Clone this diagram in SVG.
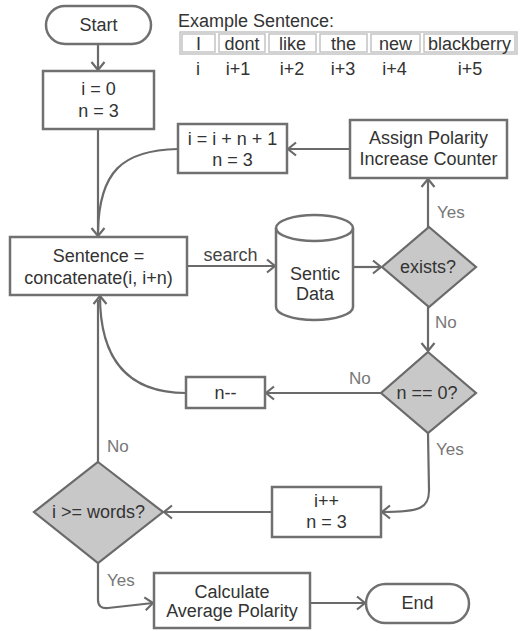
<svg xmlns="http://www.w3.org/2000/svg" width="520" height="631" viewBox="0 0 520 631">
<defs>
<marker id="arr" markerUnits="userSpaceOnUse" viewBox="-11 -8 13 16" refX="0" refY="0" markerWidth="13" markerHeight="16" orient="auto">
<path d="M-8,-6.5 L0,0 L-8,6.5" fill="none" stroke="#6a6a6a" stroke-width="2.2"/>
</marker>
</defs>
<style>
.box{fill:#fff;stroke:#707070;stroke-width:2.5}
.dia{fill:#c8c8c8;stroke:#6a6a6a;stroke-width:2.2}
.t{font-family:"Liberation Sans",Arial,sans-serif;font-size:18px;fill:#333;text-anchor:middle}
.lab{font-family:"Liberation Sans",Arial,sans-serif;font-size:17px;fill:#777;text-anchor:start}
.c{fill:none;stroke:#6a6a6a;stroke-width:2.2}
.cell{fill:#fff;stroke:#c4c4c4;stroke-width:1.5}
</style>
<rect width="520" height="631" fill="#fff"/>

<g id="example">
<text x="178" y="27" class="t" style="text-anchor:start">Example Sentence:</text>
<rect x="180" y="32" width="337" height="22" class="cell"/>
<rect x="182" y="34" width="33" height="18" class="cell"/>
<rect x="219" y="34" width="46" height="18" class="cell"/>
<rect x="269" y="34" width="47" height="18" class="cell"/>
<rect x="320" y="34" width="47" height="18" class="cell"/>
<rect x="371" y="34" width="49" height="18" class="cell"/>
<rect x="424" y="34" width="91" height="18" class="cell"/>
<text x="198.5" y="50" class="t">I</text>
<text x="242" y="50" class="t">dont</text>
<text x="292.5" y="50" class="t">like</text>
<text x="343.5" y="50" class="t">the</text>
<text x="395.5" y="50" class="t">new</text>
<text x="469.5" y="50" class="t">blackberry</text>
<text x="198" y="75" class="t">i</text>
<text x="238" y="75" class="t">i+1</text>
<text x="292" y="75" class="t">i+2</text>
<text x="343" y="75" class="t">i+3</text>
<text x="394.5" y="75" class="t">i+4</text>
<text x="470" y="75" class="t">i+5</text>
</g>

<g id="connectors">
<path class="c" d="M98,44 L98,70" marker-end="url(#arr)"/>
<path class="c" d="M98,129 L98,236" marker-end="url(#arr)"/>
<path class="c" d="M178,149 C122,150 99,172 98,232"/>
<path class="c" d="M187,266 L275,266" marker-end="url(#arr)"/>
<path class="c" d="M353,267 L381,267" marker-end="url(#arr)"/>
<path class="c" d="M428,227 L428,179" marker-end="url(#arr)"/>
<path class="c" d="M350,149 L288,149" marker-end="url(#arr)"/>
<path class="c" d="M428,307 L428,351" marker-end="url(#arr)"/>
<path class="c" d="M381,393 L266,393" marker-end="url(#arr)"/>
<path class="c" d="M186,393 C122,393 100,352 100,296" marker-end="url(#arr)"/>
<path class="c" d="M98,462 L98,300"/>
<path class="c" d="M428,433 L429,490 C429,508 421,512 382,512" marker-end="url(#arr)"/>
<path class="c" d="M272,512 L164,512" marker-end="url(#arr)"/>
<path class="c" d="M98,563 L98,600 Q98,609 108,608 L153,603" marker-end="url(#arr)"/>
<path class="c" d="M310,603 L365,603" marker-end="url(#arr)"/>
<text x="230.5" y="261" class="t" style="fill:#444">search</text>
<text x="437" y="218" class="lab">Yes</text>
<text x="435" y="328" class="lab">No</text>
<text x="349" y="384" class="lab">No</text>
<text x="436" y="455" class="lab">Yes</text>
<text x="107" y="452" class="lab">No</text>
<text x="107" y="586" class="lab">Yes</text>
</g>

<g id="start">
<rect x="46" y="6" width="105" height="38" rx="19" class="box"/>
<text x="98.5" y="31" class="t">Start</text>
</g>

<g id="init">
<rect x="43" y="71" width="111" height="58" class="box"/>
<text x="98.5" y="95" class="t">i = 0</text>
<text x="98.5" y="117" class="t">n = 3</text>
</g>

<g id="sentence">
<rect x="10" y="237" width="177" height="58" class="box"/>
<text x="98.5" y="262" class="t">Sentence =</text>
<text x="98.5" y="284" class="t">concatenate(i, i+n)</text>
</g>

<g id="sentic">
<path d="M276,228 A38.5,13 0 0 1 353,228 L353,307 A38.5,13 0 0 1 276,307 Z" class="box"/>
<path d="M276,228 A38.5,13 0 0 0 353,228" class="box" style="fill:none"/>
<text x="315" y="280" class="t">Sentic</text>
<text x="315" y="300" class="t">Data</text>
</g>

<g id="exists">
<polygon points="429,227 476,267 429,307 382,267" class="dia"/>
<text x="428" y="273" class="t">exists?</text>
</g>

<g id="assign">
<rect x="350" y="120" width="157" height="58" class="box"/>
<text x="428.5" y="144" class="t">Assign Polarity</text>
<text x="428.5" y="165" class="t">Increase Counter</text>
</g>

<g id="update">
<rect x="178" y="124" width="109" height="49" class="box"/>
<text x="232.5" y="145" class="t">i = i + n + 1</text>
<text x="232.5" y="166" class="t">n = 3</text>
</g>

<g id="nzero">
<polygon points="428,352 476,393 428,433 381,393" class="dia"/>
<text x="427" y="399" class="t">n == 0?</text>
</g>

<g id="ndec">
<rect x="186" y="377" width="79" height="31" class="box"/>
<text x="225.5" y="399" class="t">n--</text>
</g>

<g id="iinc">
<rect x="272" y="487" width="109" height="50" class="box"/>
<text x="326.5" y="507" class="t">i++</text>
<text x="326.5" y="528" class="t">n = 3</text>
</g>

<g id="words">
<polygon points="98,462 163,512 98,563 34,512" class="dia"/>
<text x="98.5" y="518" class="t">i &gt;= words?</text>
</g>

<g id="calc">
<rect x="154" y="573" width="156" height="55" class="box"/>
<text x="232" y="598" class="t">Calculate</text>
<text x="232" y="617" class="t">Average Polarity</text>
</g>

<g id="end">
<rect x="366" y="584" width="103" height="39" rx="19.5" class="box"/>
<text x="417.5" y="609" class="t">End</text>
</g>
</svg>
